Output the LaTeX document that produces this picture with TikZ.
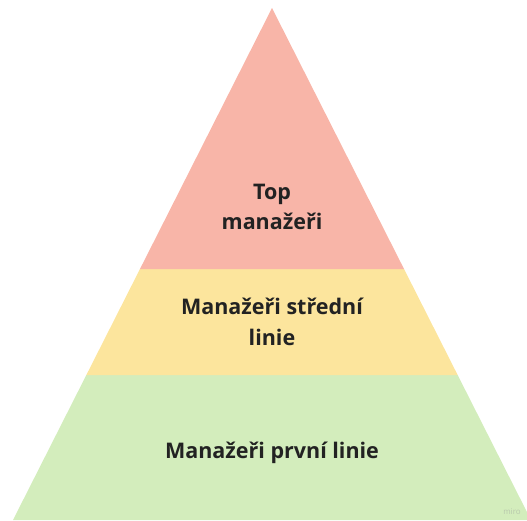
\documentclass[tikz,border=0pt]{standalone}
\usepackage{fontspec}
\setmainfont{Open Sans}
\usetikzlibrary{calc}
\definecolor{topred}{HTML}{F8B5A8}
\definecolor{midyellow}{HTML}{FCE59D}
\definecolor{lowgreen}{HTML}{D3EDBC}
\definecolor{labeltext}{HTML}{222222}
\definecolor{watermark}{HTML}{B9C9AD}
\tikzset{
  layerlabel/.style={align=center, text=labeltext, font=\fontsize{21.5}{30.5}\selectfont\bfseries, inner sep=0pt},
}
\begin{document}
\begin{tikzpicture}[x=1pt,y=1pt]
\useasboundingbox (0,0) rectangle (527,520);
\coordinate (apex) at (272,512);
\coordinate (bl) at (13,0);
\coordinate (br) at (531,0);
\coordinate (l1) at ($(apex)!0.5098!(bl)$);
\coordinate (r1) at ($(apex)!0.5098!(br)$);
\coordinate (l2) at ($(apex)!0.7168!(bl)$);
\coordinate (r2) at ($(apex)!0.7168!(br)$);
\fill[lowgreen] (l2) -- (r2) -- (br) -- (bl) -- cycle;
\fill[midyellow] (l1) -- (r1) -- (r2) -- (l2) -- cycle;
\fill[topred] (apex) -- (r1) -- (l1) -- cycle;
\node[layerlabel] (top) at (272,313) {Top\\manažeři};
\node[layerlabel] (mid) at (272,198) {Manažeři střední\\linie};
\node[layerlabel] (low) at (272,67) {Manažeři první linie};
\node[font=\fontsize{8}{9}\selectfont, text=watermark, inner sep=0pt] (miro) at (512,8) {miro};
\end{tikzpicture}
\end{document}
